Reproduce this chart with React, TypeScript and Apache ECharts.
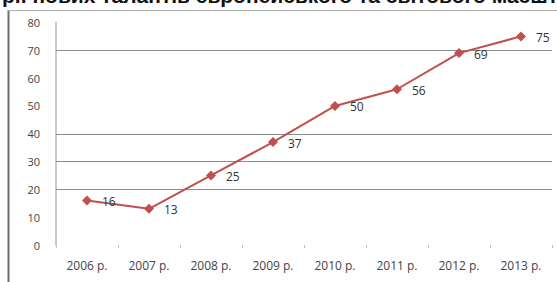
import React, { useEffect, useRef } from "react";
import * as echarts from "echarts";

const categories = ["2006 р.", "2007 р.", "2008 р.", "2009 р.", "2010 р.", "2011 р.", "2012 р.", "2013 р."];
const values = [16, 13, 25, 37, 50, 56, 69, 75];
const headerText = "рії нових талантів європейського та світового масштабу";
// gridlines visible in the reference
const gridValues = [20, 30, 40, 70];

export default function App() {
  const ref = useRef<HTMLDivElement>(null);
  useEffect(() => {
    const chart = echarts.init(ref.current!, null, { renderer: "svg" });
    chart.setOption({
      animation: false,
      backgroundColor: "#ffffff",
      textStyle: { fontFamily: "Open Sans" },
      grid: { left: 56, right: 5, top: 22.5, bottom: 37, containLabel: false },
      graphic: [
        {
          type: "text",
          x: 2,
          y: -15,
          style: { text: headerText, font: "bold 21px 'Liberation Sans'", fill: "#111" },
        },
        { type: "line", shape: { x1: 8.5, y1: 10, x2: 8.5, y2: 282 }, style: { stroke: "#6e6e6e", lineWidth: 2 } },
        { type: "line", shape: { x1: 8, y1: 10.5, x2: 557, y2: 10.5 }, style: { stroke: "#b0b0b0", lineWidth: 1 } },
      ],
      xAxis: {
        type: "category",
        data: categories,
        boundaryGap: true,
        axisLine: { show: false },
        axisTick: { show: true, length: 3, lineStyle: { color: "#c0c0c0" } },
        axisLabel: { fontSize: 12, color: "#444", margin: 14, fontFamily: "Open Sans" },
        splitLine: { show: false },
      },
      yAxis: {
        type: "value",
        min: 0,
        max: 80,
        interval: 10,
        axisLine: { show: true, lineStyle: { color: "#c8c8c8", width: 2 } },
        axisTick: { show: false },
        axisLabel: { fontSize: 11, color: "#444", margin: 16, fontFamily: "Open Sans" },
        splitLine: { show: false },
      },
      series: [
        {
          type: "line",
          data: values,
          symbol: "diamond",
          symbolSize: 10,
          z: 3,
          itemStyle: { color: "#c0504d" },
          lineStyle: { color: "#c0504d", width: 2 },
          label: {
            show: true,
            position: "right",
            distance: 10,
            offset: [0, 1],
            fontSize: 12,
            color: "#333",
            fontFamily: "Open Sans",
          },
          markLine: {
            silent: true,
            symbol: ["none", "none"],
            label: { show: false },
            lineStyle: { color: "#8c8c8c", width: 1, type: "solid" },
            z: 1,
            data: gridValues.map((v) => ({ yAxis: v })),
          },
        },
      ],
    });
    return () => chart.dispose();
  }, []);
  return <div ref={ref} style={{ position: "fixed", left: 0, top: 0, width: 557, height: 282 }} />;
}
